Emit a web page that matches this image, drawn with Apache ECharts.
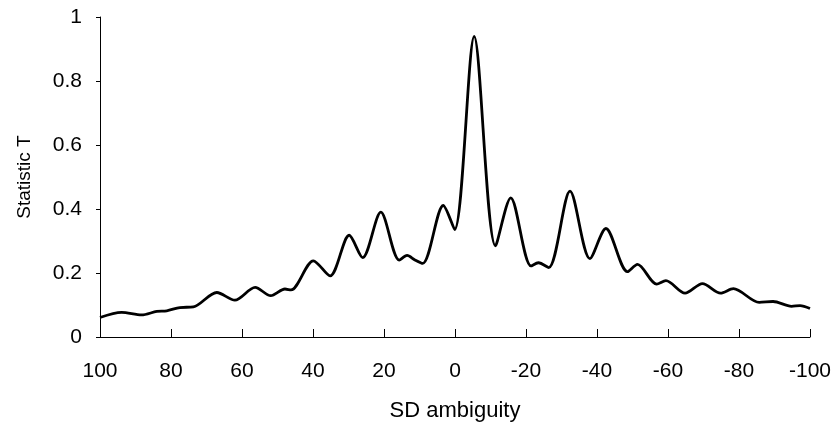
<!DOCTYPE html>
<html>
<head>
<meta charset="utf-8">
<script src="https://cdn.jsdelivr.net/npm/echarts@6/dist/echarts.min.js"></script>
<style>
html,body{margin:0;padding:0;background:#fff;}
#chart{width:838px;height:427px;}
</style>
</head>
<body>
<div id="chart"></div>
<script>
const sdAmbiguity = [100, 93.9, 88.3, 84, 81.2, 77.5, 73.7, 67.1, 62, 56.3, 51.9, 47.9, 46.2, 39.9, 35.2, 29.8, 26, 20.9, 15.7, 13.5, 11.3, 9.1, 3.3, 0.1, -5.4, -11.4, -15.7, -21.4, -23.5, -26.4, -32.4, -38, -42.5, -48.6, -51.4, -56.8, -59.4, -64.8, -69.7, -74.8, -78.4, -85.7, -89.6, -94.8, -97.2, -100];
const statisticT = [0.061, 0.077, 0.069, 0.080, 0.082, 0.092, 0.094, 0.139, 0.115, 0.155, 0.129, 0.150, 0.147, 0.238, 0.191, 0.318, 0.248, 0.390, 0.240, 0.255, 0.241, 0.230, 0.411, 0.336, 0.939, 0.285, 0.435, 0.222, 0.232, 0.217, 0.456, 0.245, 0.339, 0.204, 0.227, 0.165, 0.176, 0.137, 0.167, 0.137, 0.151, 0.108, 0.111, 0.096, 0.098, 0.089];
const xTicks = [100, 80, 60, 40, 20, 0, -20, -40, -60, -80, -100];
const yTicks = [0, 0.2, 0.4, 0.6, 0.8, 1];
const xTitle = 'SD ambiguity';
const yTitle = 'Statistic T';

const seriesData = sdAmbiguity.map((x, i) => [x, statisticT[i]]);
const font = '"Liberation Sans", Arial, sans-serif';

const chart = echarts.init(document.getElementById('chart'), null, {renderer: 'canvas'});
chart.setOption({
  animation: false,
  backgroundColor: '#fff',
  grid: {left: 100, right: 28, top: 17, bottom: 89},
  xAxis: {
    type: 'value',
    inverse: true,
    min: xTicks[xTicks.length - 1],
    max: xTicks[0],
    interval: 20,
    name: xTitle,
    nameLocation: 'middle',
    nameGap: 63,
    nameTextStyle: {fontFamily: font, fontSize: 22, color: '#000'},
    axisLine: {onZero: false, lineStyle: {color: '#000', width: 1}},
    axisTick: {inside: true, length: 8, lineStyle: {color: '#000'}},
    axisLabel: {fontFamily: font, fontSize: 21, color: '#000', margin: 24},
    splitLine: {show: false}
  },
  yAxis: {
    type: 'value',
    min: yTicks[0],
    max: yTicks[yTicks.length - 1],
    interval: 0.2,
    name: yTitle,
    nameLocation: 'middle',
    nameGap: 66,
    nameRotate: 90,
    nameTextStyle: {fontFamily: font, fontSize: 19, color: '#000'},
    axisLine: {show: true, onZero: false, lineStyle: {color: '#000', width: 1}},
    axisTick: {show: true, length: 4, lineStyle: {color: '#000'}},
    axisLabel: {fontFamily: font, fontSize: 21, color: '#000', margin: 18},
    splitLine: {show: false}
  },
  series: [{
    type: 'line',
    data: seriesData,
    smooth: 0.3,
    symbol: 'none',
    lineStyle: {color: '#000', width: 2.8}
  }]
});
</script>
</body>
</html>
